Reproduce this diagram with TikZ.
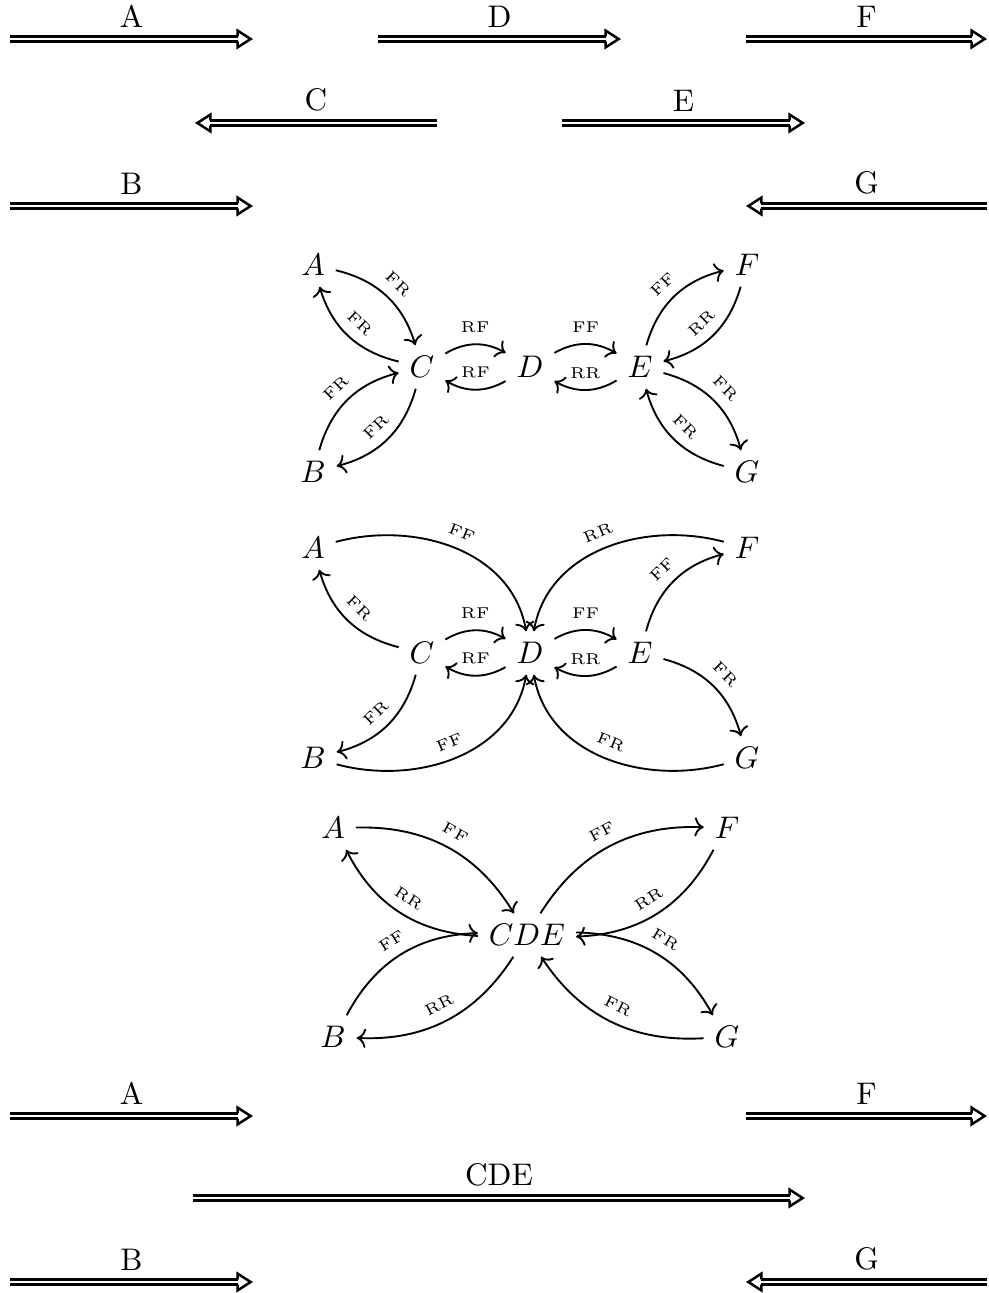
\documentclass[tikz,border=0pt]{standalone}
\usetikzlibrary{arrows.meta}
\pgfdeclarearrow{
  name = Hollow,
  parameters = {},
  setup code = {
    \pgfarrowssettipend{4.95pt}
    \pgfarrowssetbackend{-0.4pt}
    \pgfarrowssetlineend{0.1pt}
    \pgfarrowshullpoint{4.95pt}{0pt}
    \pgfarrowsupperhullpoint{-0.4pt}{3.1pt}
  },
  drawing code = {
    \pgfsetlinewidth{0.8pt}
    \pgfsetmiterjoin
    \pgfpathmoveto{\pgfqpoint{0pt}{0.85pt}}
    \pgfpathlineto{\pgfqpoint{0pt}{2.7pt}}
    \pgfpathlineto{\pgfqpoint{4.2pt}{0pt}}
    \pgfpathlineto{\pgfqpoint{0pt}{-2.7pt}}
    \pgfpathlineto{\pgfqpoint{0pt}{-0.85pt}}
    \pgfusepathqstroke
  }
}
\begin{document}
\begin{tikzpicture}[
						x=0.32pt, y=0.32pt,
						flow/.style={double, thick, double distance=0.9pt, -Hollow},
						edge/.style={->, semithick},
						lab/.style={font=\tiny, sloped, above}
						]
						\useasboundingbox (0,0) rectangle (988,-1293);
						% top rows
						\coordinate (ta1) at (10,-39);  \coordinate (ta2) at (253,-39);
						\coordinate (td1) at (378,-39); \coordinate (td2) at (621,-39);
						\coordinate (tf1) at (746,-39); \coordinate (tf2) at (987,-39);
						\coordinate (tc1) at (437,-123); \coordinate (tc2) at (195,-123);
						\coordinate (te1) at (562,-123); \coordinate (te2) at (805,-123);
						\coordinate (tb1) at (10,-206);  \coordinate (tb2) at (253,-206);
						\coordinate (tg1) at (987,-206); \coordinate (tg2) at (746,-206);
						\draw[flow] (ta1) -- node[above] {A} (ta2);
						\draw[flow] (td1) -- node[above] {D} (td2);
						\draw[flow] (tf1) -- node[above] {F} (tf2);
						\draw[flow] (tc1) -- node[above] {C} (tc2);
						\draw[flow] (te1) -- node[above] {E} (te2);
						\draw[flow] (tb1) -- node[above] {B} (tb2);
						\draw[flow] (tg1) -- node[above] {G} (tg2);
						% first graph
						\node (a1) at (313,-265) {$A$};
						\node (b1) at (313,-472) {$B$};
						\node (c1) at (422,-367) {$C$};
						\node (d1) at (530,-367) {$D$};
						\node (e1) at (640,-367) {$E$};
						\node (f1) at (747,-265) {$F$};
						\node (g1) at (747,-472) {$G$};
						\draw[edge] (a1) to[bend left] node[lab] {FR} (c1);
						\draw[edge] (c1) to[bend left] node[lab] {FR} (a1);
						\draw[edge] (b1) to[bend left] node[lab] {FR} (c1);
						\draw[edge] (c1) to[bend left] node[lab] {FR} (b1);
						\draw[edge] (c1) to[bend left] node[lab] {RF} (d1);
						\draw[edge] (d1) to[bend left] node[lab] {RF} (c1);
						\draw[edge] (d1) to[bend left] node[lab] {FF} (e1);
						\draw[edge] (e1) to[bend left] node[lab] {RR} (d1);
						\draw[edge] (e1) to[bend left] node[lab] {FF} (f1);
						\draw[edge] (f1) to[bend left] node[lab] {RR} (e1);
						\draw[edge] (e1) to[bend left] node[lab] {FR} (g1);
						\draw[edge] (g1) to[bend left] node[lab] {FR} (e1);
						% second graph
						\node (a2) at (313,-548) {$A$};
						\node (b2) at (313,-758) {$B$};
						\node (c2) at (422,-653) {$C$};
						\node (d2) at (530,-653) {$D$};
						\node (e2) at (640,-653) {$E$};
						\node (f2) at (747,-548) {$F$};
						\node (g2) at (747,-758) {$G$};
						\draw[edge] (a2) to[out=15, in=100] node[lab] {FF} (d2);
						\draw[edge] (c2) to[bend left] node[lab] {FR} (a2);
						\draw[edge] (b2) to[out=-15, in=260] node[lab] {FF} (d2);
						\draw[edge] (c2) to[bend left] node[lab] {FR} (b2);
						\draw[edge] (c2) to[bend left] node[lab] {RF} (d2);
						\draw[edge] (d2) to[bend left] node[lab] {RF} (c2);
						\draw[edge] (d2) to[bend left] node[lab] {FF} (e2);
						\draw[edge] (e2) to[bend left] node[lab] {RR} (d2);
						\draw[edge] (f2) to[out=165, in=80] node[lab] {RR} (d2);
						\draw[edge] (e2) to[bend left] node[lab] {FF} (f2);
						\draw[edge] (g2) to[out=195, in=280] node[lab] {FR} (d2);
						\draw[edge] (e2) to[bend left] node[lab] {FR} (g2);
						% third graph
						\node (a3) at (333,-828) {$A$};
						\node (b3) at (333,-1037) {$B$};
						\node (cde) at (527,-935) {$CDE$};
						\node (f3) at (727,-828) {$F$};
						\node (g3) at (727,-1037) {$G$};
						\draw[edge] (a3) to[bend left] node[lab] {FF} (cde);
						\draw[edge] (cde) to[bend left] node[lab] {RR} (a3);
						\draw[edge] (b3) to[bend left] node[lab] {FF} (cde);
						\draw[edge] (cde) to[bend left] node[lab] {RR} (b3);
						\draw[edge] (cde) to[bend left] node[lab] {FF} (f3);
						\draw[edge] (f3) to[bend left] node[lab] {RR} (cde);
						\draw[edge] (cde) to[bend left] node[lab] {FR} (g3);
						\draw[edge] (g3) to[bend left] node[lab] {FR} (cde);
						% bottom rows
						\coordinate (ba1) at (10,-1116);  \coordinate (ba2) at (253,-1116);
						\coordinate (bf1) at (746,-1116); \coordinate (bf2) at (987,-1116);
						\coordinate (bc1) at (193,-1198); \coordinate (bc2) at (805,-1198);
						\coordinate (bb1) at (10,-1282);  \coordinate (bb2) at (253,-1282);
						\coordinate (bg1) at (987,-1282); \coordinate (bg2) at (746,-1282);
						\draw[flow] (ba1) -- node[above] {A} (ba2);
						\draw[flow] (bf1) -- node[above] {F} (bf2);
						\draw[flow] (bc1) -- node[above] {CDE} (bc2);
						\draw[flow] (bb1) -- node[above] {B} (bb2);
						\draw[flow] (bg1) -- node[above] {G} (bg2);
					\end{tikzpicture}
\end{document}
